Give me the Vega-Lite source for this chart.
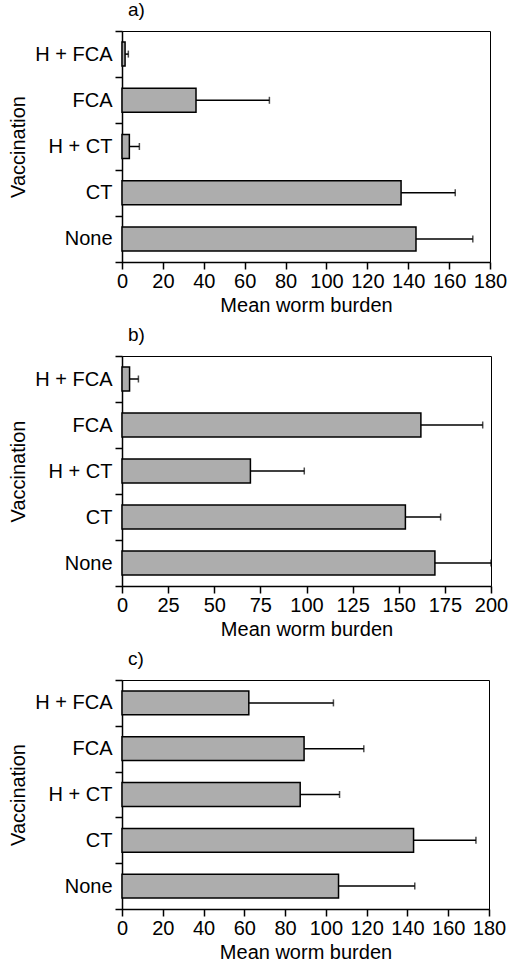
{
  "$schema": "https://vega.github.io/schema/vega-lite/v6.json",
  "padding": {"left": 8, "top": 0, "right": 0, "bottom": 0},
  "spacing": 9,
  "config": {
    "font": "Liberation Sans",
    "view": {"stroke": "black", "strokeWidth": 1},
    "axis": {
      "labelFont": "Liberation Sans", "titleFont": "Liberation Sans",
      "labelFontSize": 20, "titleFontSize": 20, "titleFontWeight": "normal",
      "labelColor": "black", "titleColor": "black",
      "domainColor": "black", "tickColor": "black",
      "domainWidth": 1.5, "tickWidth": 1.5, "tickSize": 7,
      "grid": false
    },
    "title": {"font": "Liberation Sans", "fontSize": 19, "fontWeight": "normal", "color": "black", "anchor": "start", "frame": "group", "dx": 6, "offset": 1}
  },
  "vconcat": [
    {
      "title": {"text": "a)"},
      "width": 368, "height": 231,
      "data": {"values": [
        {"vaccination": "H + FCA", "mean": 1.5, "upper": 3.1},
        {"vaccination": "FCA", "mean": 36.2, "upper": 72.1},
        {"vaccination": "H + CT", "mean": 3.6, "upper": 8.5},
        {"vaccination": "CT", "mean": 136.5, "upper": 163},
        {"vaccination": "None", "mean": 143.8, "upper": 171.6}
      ]},
      "encoding": {
        "y": {"field": "vaccination", "type": "nominal", "sort": ["H + FCA", "FCA", "H + CT", "CT", "None"],
              "scale": {"paddingInner": 0, "paddingOuter": 0},
              "axis": {"tickBand": "extent", "labelPadding": 3, "titlePadding": 6}, "title": "Vaccination"}
      },
      "layer": [
        {"mark": {"type": "bar", "fill": "#adadad", "stroke": "black", "strokeWidth": 1.5, "height": {"band": 0.52}},
         "encoding": {"x": {"field": "mean", "type": "quantitative", "scale": {"domain": [0, 180], "nice": false},
           "axis": {"values": [0, 20, 40, 60, 80, 100, 120, 140, 160, 180], "labelFlush": false, "labelOverlap": false, "labelPadding": 2, "titlePadding": 4},
           "title": "Mean worm burden"}}},
        {"mark": {"type": "rule", "strokeWidth": 1.5, "color": "black"},
         "encoding": {"x": {"field": "mean", "type": "quantitative"}, "x2": {"field": "upper"}}},
        {"mark": {"type": "tick", "orient": "vertical", "size": 7, "thickness": 1.5, "color": "black"},
         "encoding": {"x": {"field": "upper", "type": "quantitative"}}}
      ]
    },
    {
      "title": {"text": "b)"},
      "width": 369, "height": 230,
      "data": {"values": [
        {"vaccination": "H + FCA", "mean": 4.1, "upper": 8.9},
        {"vaccination": "FCA", "mean": 162, "upper": 195.5},
        {"vaccination": "H + CT", "mean": 69.6, "upper": 98.8},
        {"vaccination": "CT", "mean": 153.6, "upper": 172.7},
        {"vaccination": "None", "mean": 169.6, "upper": 200}
      ]},
      "encoding": {
        "y": {"field": "vaccination", "type": "nominal", "sort": ["H + FCA", "FCA", "H + CT", "CT", "None"],
              "scale": {"paddingInner": 0, "paddingOuter": 0},
              "axis": {"tickBand": "extent", "labelPadding": 3, "titlePadding": 6}, "title": "Vaccination"}
      },
      "layer": [
        {"mark": {"type": "bar", "fill": "#adadad", "stroke": "black", "strokeWidth": 1.5, "height": {"band": 0.52}},
         "encoding": {"x": {"field": "mean", "type": "quantitative", "scale": {"domain": [0, 200], "nice": false},
           "axis": {"values": [0, 25, 50, 75, 100, 125, 150, 175, 200], "labelFlush": false, "labelOverlap": false, "labelPadding": 2, "titlePadding": 4},
           "title": "Mean worm burden"}}},
        {"mark": {"type": "rule", "strokeWidth": 1.5, "color": "black"},
         "encoding": {"x": {"field": "mean", "type": "quantitative"}, "x2": {"field": "upper"}}},
        {"mark": {"type": "tick", "orient": "vertical", "size": 7, "thickness": 1.5, "color": "black"},
         "encoding": {"x": {"field": "upper", "type": "quantitative"}}}
      ]
    },
    {
      "title": {"text": "c)"},
      "width": 367, "height": 229,
      "data": {"values": [
        {"vaccination": "H + FCA", "mean": 62.2, "upper": 103.7},
        {"vaccination": "FCA", "mean": 89.3, "upper": 118.6},
        {"vaccination": "H + CT", "mean": 87.4, "upper": 106.7},
        {"vaccination": "CT", "mean": 143, "upper": 173.6},
        {"vaccination": "None", "mean": 106.2, "upper": 143.6}
      ]},
      "encoding": {
        "y": {"field": "vaccination", "type": "nominal", "sort": ["H + FCA", "FCA", "H + CT", "CT", "None"],
              "scale": {"paddingInner": 0, "paddingOuter": 0},
              "axis": {"tickBand": "extent", "labelPadding": 3, "titlePadding": 6}, "title": "Vaccination"}
      },
      "layer": [
        {"mark": {"type": "bar", "fill": "#adadad", "stroke": "black", "strokeWidth": 1.5, "height": {"band": 0.52}},
         "encoding": {"x": {"field": "mean", "type": "quantitative", "scale": {"domain": [0, 180], "nice": false},
           "axis": {"values": [0, 20, 40, 60, 80, 100, 120, 140, 160, 180], "labelFlush": false, "labelOverlap": false, "labelPadding": 2, "titlePadding": 4},
           "title": "Mean worm burden"}}},
        {"mark": {"type": "rule", "strokeWidth": 1.5, "color": "black"},
         "encoding": {"x": {"field": "mean", "type": "quantitative"}, "x2": {"field": "upper"}}},
        {"mark": {"type": "tick", "orient": "vertical", "size": 7, "thickness": 1.5, "color": "black"},
         "encoding": {"x": {"field": "upper", "type": "quantitative"}}}
      ]
    }
  ]
}
